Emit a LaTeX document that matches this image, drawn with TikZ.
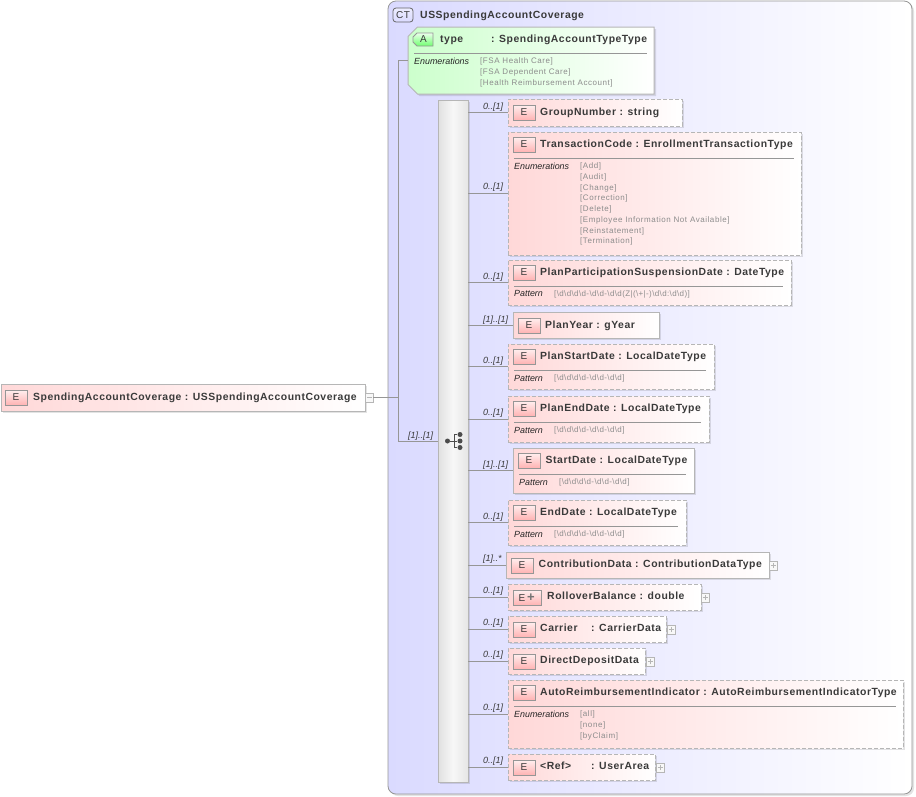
\documentclass[tikz,border=0pt]{standalone}
\usepackage{fontspec}
\setmainfont{Liberation Sans}
\newfontfamily\namefont{Liberation Sans}[LetterSpace=5.2]
\newfontfamily\valfont{Liberation Sans}[LetterSpace=7]
\newfontfamily\patfont{Liberation Sans}[LetterSpace=4.7]
\usetikzlibrary{shapes,shapes.misc}
\usetikzlibrary{shadows}
\usetikzlibrary{calc,positioning}
\definecolor{edgegray}{HTML}{B6B6B6}
\definecolor{linegray}{HTML}{969696}
\definecolor{inkgray}{HTML}{3A3A3A}
\definecolor{valgray}{HTML}{8C8C8C}
\definecolor{elempink}{HTML}{FFD8D8}
\definecolor{attrgreen}{HTML}{CCFFCC}
\definecolor{typeblue}{HTML}{DADAFF}
\newcommand\bsd{\textbackslash d}

\begin{document}
\begin{tikzpicture}[x=1pt, y=-1pt,
  softshadow/.style = {drop shadow={shadow xshift=2pt, shadow yshift=-2pt, opacity=0.11, fill=black}},
  reqbox/.style = {rectangle, anchor=north west, inner sep=0, outer sep=0, draw=edgegray, line width=1pt, left color=elempink, right color=white, softshadow},
  optbox/.style = {reqbox, dash pattern=on 4pt off 2pt},
  elemicon/.style = {rectangle, anchor=north west, inner sep=0, outer sep=0, minimum width=22, minimum height=15, draw=linegray, line width=0.8pt, top color=elempink!40, bottom color=red!30, text=inkgray, font=\fontsize{10}{10}\selectfont\namefont},
  namelabel/.style = {anchor=base west, inner sep=0, text=inkgray, font=\fontsize{10.4}{12}\bfseries\namefont},
  multlabel/.style = {anchor=base west, inner sep=0, text=inkgray, font=\fontsize{9}{10}\itshape\selectfont},
  facettag/.style = {anchor=base west, inner sep=0, text=black!85, font=\fontsize{8.9}{10}\itshape\selectfont},
  facetval/.style = {anchor=north west, inner sep=0, align=left, text=valgray, font=\fontsize{8}{10.75}\selectfont\valfont},
  patternval/.style = {facetval, font=\fontsize{8}{10.75}\selectfont\patfont},
  sepline/.style = {draw=linegray, line width=0.7pt},
  conn/.style = {draw=linegray, line width=0.7pt},
  togglebox/.style = {rectangle, anchor=north west, inner sep=0, outer sep=0, minimum width=8, minimum height=9, draw=edgegray, line width=0.6pt, fill=white!90!edgegray},
  plusbox/.style = {togglebox, path picture={\draw[edgegray, line width=0.7pt] ([xshift=-2.5pt]path picture bounding box.center) -- ([xshift=2.5pt]path picture bounding box.center) ([yshift=-2.5pt]path picture bounding box.center) -- ([yshift=2.5pt]path picture bounding box.center);}},
  minusbox/.style = {togglebox, path picture={\draw[edgegray, line width=0.7pt] ([xshift=-2.5pt]path picture bounding box.center) -- ([xshift=2.5pt]path picture bounding box.center);}},
  seqdot/.style = {circle, fill=black!70, inner sep=0, minimum size=5}]

\useasboundingbox (0,0) rectangle (916,796);

% complex type frame
\node[rectangle, anchor=north west, inner sep=0, outer sep=0, minimum width=524, minimum height=793, draw=linegray, line width=0.8pt, rounded corners=8pt, left color=typeblue, right color=white, softshadow](frame) at (388,1){};
\node[elemicon, minimum width=20, minimum height=14, rounded corners=3pt, top color=typeblue!50, bottom color=typeblue, draw=black!60, text=inkgray](frameicon) at (393,8){CT};
\node[namelabel](frametitle) at (420,18){USSpendingAccountCoverage};

% root element
\node[reqbox, minimum width=364, minimum height=27](root) at (1,384){};
\node[elemicon](rooticon) at (5,390){E};
\node[namelabel](rootname) at (33,400){SpendingAccountCoverage : USSpendingAccountCoverage};
\node[minusbox](rootminus) at (365,393){};
\coordinate (bus) at (398,397.5);

% attribute
\draw [draw=edgegray, line width=1pt, left color=attrgreen, right color=white, softshadow] (408,36.5) -- (417.5,27) -- (654,27) -- (654,94) -- (417.5,94) -- (408,84.5) -- cycle;
\coordinate (attr) at (408,60.5);
\draw [draw=linegray, line width=0.8pt, top color=attrgreen!40, bottom color=green!45!attrgreen] (413,37) -- (417,33) -- (433,33) -- (433,46) -- (417,46) -- (413,42) -- cycle;
\node[anchor=center, inner sep=0, text=inkgray, font=\fontsize{10}{10}\selectfont\namefont](attricon) at (423.5,39.5){A};
\node[namelabel](attrname) at (440,42){type};
\node[namelabel](attrtype) at (491,42){: SpendingAccountTypeType};
\draw[sepline] (414,53) -- (647,53);
\node[facettag](attrtag) at (414,64){Enumerations};
\node[facetval](attrval) at (480,57.5){[FSA Health Care]\\\relax[FSA Dependent Care]\\\relax[Health Reimbursement Account]};

% sequence
\node[rectangle, anchor=north west, inner sep=0, outer sep=0, minimum width=30, minimum height=682, draw=edgegray, line width=0.9pt, left color=black!12, right color=black!10, middle color=black!3, softshadow](seq) at (438,100){};
\node[seqdot](seqroot) at (447.5,441){};
\node[seqdot](seqtop) at (460,434.5){};
\node[seqdot](seqmid) at (460,441){};
\node[seqdot](seqlow) at (460,447.5){};
\node[multlabel](seqmult) at (408,438){[1]..[1]};

% children
\node[optbox, minimum width=174, minimum height=27](group) at (508,99){};
\node[elemicon](groupicon) at (513,105){E};
\node[namelabel](groupname) at (540,115){GroupNumber : string};
\node[multlabel](groupmult) at (483,109){0..[1]};

\node[optbox, minimum width=293, minimum height=123](trans) at (508,132){};
\node[elemicon](transicon) at (513,137){E};
\node[namelabel](transname) at (540,147){TransactionCode : EnrollmentTransactionType};
\draw[sepline] (514,158) -- (794,158);
\node[facettag](transtag) at (514,169){Enumerations};
\node[facetval](transval) at (580,162.5){[Add]\\\relax[Audit]\\\relax[Change]\\\relax[Correction]\\\relax[Delete]\\\relax[Employee Information Not Available]\\\relax[Reinstatement]\\\relax[Termination]};
\node[multlabel](transmult) at (483,189){0..[1]};

\node[optbox, minimum width=283, minimum height=45](susp) at (508,260){};
\node[elemicon](suspicon) at (513,265){E};
\node[namelabel](suspname) at (540,275){PlanParticipationSuspensionDate : DateType};
\draw[sepline] (514,286.5) -- (783,286.5);
\node[facettag](susptag) at (514,296.5){Pattern};
\node[patternval](suspval) at (554,290.5){[\bsd\bsd\bsd\bsd-\bsd\bsd-\bsd\bsd(Z|(\textbackslash+|-)\bsd\bsd:\bsd\bsd)]};
\node[multlabel](suspmult) at (483,279){0..[1]};

\node[reqbox, minimum width=146, minimum height=26](year) at (513,312){};
\node[elemicon](yearicon) at (518,318){E};
\node[namelabel](yearname) at (545,328){PlanYear : gYear};
\node[multlabel](yearmult) at (483,322){[1]..[1]};

\node[optbox, minimum width=206, minimum height=45](pstart) at (508,344){};
\node[elemicon](pstarticon) at (513,349){E};
\node[namelabel](pstartname) at (540,359){PlanStartDate : LocalDateType};
\draw[sepline] (514,370.5) -- (706,370.5);
\node[facettag](pstarttag) at (514,381){Pattern};
\node[patternval](pstartval) at (554,374.5){[\bsd\bsd\bsd\bsd-\bsd\bsd-\bsd\bsd]};
\node[multlabel](pstartmult) at (483,363){0..[1]};

\node[optbox, minimum width=201, minimum height=46](pend) at (508,396){};
\node[elemicon](pendicon) at (513,401){E};
\node[namelabel](pendname) at (540,411){PlanEndDate : LocalDateType};
\draw[sepline] (514,422.5) -- (701,422.5);
\node[facettag](pendtag) at (514,433){Pattern};
\node[patternval](pendval) at (554,426.5){[\bsd\bsd\bsd\bsd-\bsd\bsd-\bsd\bsd]};
\node[multlabel](pendmult) at (483,415){0..[1]};

\node[reqbox, minimum width=181, minimum height=45](start) at (513,448){};
\node[elemicon](starticon) at (518,453){E};
\node[namelabel](startname) at (545.5,463){StartDate : LocalDateType};
\draw[sepline] (519,474.5) -- (686,474.5);
\node[facettag](starttag) at (519,485){Pattern};
\node[patternval](startval) at (559,478.5){[\bsd\bsd\bsd\bsd-\bsd\bsd-\bsd\bsd]};
\node[multlabel](startmult) at (483,467){[1]..[1]};

\node[optbox, minimum width=178, minimum height=45](finish) at (508,500){};
\node[elemicon](finishicon) at (513,505){E};
\node[namelabel](finishname) at (540,515){EndDate : LocalDateType};
\draw[sepline] (514,526.5) -- (678,526.5);
\node[facettag](finishtag) at (514,537){Pattern};
\node[patternval](finishval) at (554,530.5){[\bsd\bsd\bsd\bsd-\bsd\bsd-\bsd\bsd]};
\node[multlabel](finishmult) at (483,519){0..[1]};

\node[reqbox, minimum width=263, minimum height=26](contrib) at (506,552){};
\node[elemicon](contribicon) at (511,558){E};
\node[namelabel](contribname) at (538.5,567){ContributionData : ContributionDataType};
\node[plusbox](contribplus) at (769,561){};
\node[multlabel](contribmult) at (483,561){[1]..*};

\node[optbox, minimum width=193, minimum height=26](roll) at (508,584){};
\node[elemicon, minimum width=28](rollicon) at (513,590){E\,\textcolor{black!55}{\fontsize{13}{13}\selectfont\textbf{+}}};
\node[namelabel](rollname) at (547,599){RolloverBalance : double};
\node[plusbox](rollplus) at (701,593){};
\node[multlabel](rollmult) at (483,593){0..[1]};

\node[optbox, minimum width=158, minimum height=26](carrier) at (508,616){};
\node[elemicon](carriericon) at (513,622){E};
\node[namelabel](carriername) at (540,631){Carrier};
\node[namelabel](carriertype) at (591,631){: CarrierData};
\node[plusbox](carrierplus) at (667,625){};
\node[multlabel](carriermult) at (483,625){0..[1]};

\node[optbox, minimum width=137, minimum height=26](direct) at (508,648){};
\node[elemicon](directicon) at (513,654){E};
\node[namelabel](directname) at (540,663){DirectDepositData};
\node[plusbox](directplus) at (646,657){};
\node[multlabel](directmult) at (483,657){0..[1]};

\node[optbox, minimum width=395, minimum height=68](auto) at (508,680){};
\node[elemicon](autoicon) at (513,685){E};
\node[namelabel](autoname) at (540,695){AutoReimbursementIndicator : AutoReimbursementIndicatorType};
\draw[sepline] (514,706.5) -- (896,706.5);
\node[facettag](autotag) at (514,717){Enumerations};
\node[facetval](autoval) at (580,710.5){[all]\\\relax[none]\\\relax[byClaim]};
\node[multlabel](automult) at (483,710){0..[1]};

\node[optbox, minimum width=147, minimum height=26](area) at (508,754){};
\node[elemicon](areaicon) at (513,760){E};
\node[namelabel](areaname) at (540,769){<Ref>};
\node[namelabel](areatype) at (591,769){: UserArea};
\node[plusbox](areaplus) at (656,763){};
\node[multlabel](areamult) at (483,763){0..[1]};

% connectors
\draw [conn] (rootminus) to (bus);
\draw [conn] (attr -| bus) to (seq.west -| bus);
\draw [conn] (attr -| bus) to (attr);
\draw [conn] (seq.west -| bus) to (seq.west);
\draw [conn] (group.west -| seq.east) to (group.west);
\draw [conn] (trans.west -| seq.east) to (trans.west);
\draw [conn] (susp.west -| seq.east) to (susp.west);
\draw [conn] (year.west -| seq.east) to (year.west);
\draw [conn] (pstart.west -| seq.east) to (pstart.west);
\draw [conn] (pend.west -| seq.east) to (pend.west);
\draw [conn] (start.west -| seq.east) to (start.west);
\draw [conn] (finish.west -| seq.east) to (finish.west);
\draw [conn] (contrib.west -| seq.east) to (contrib.west);
\draw [conn] (roll.west -| seq.east) to (roll.west);
\draw [conn] (carrier.west -| seq.east) to (carrier.west);
\draw [conn] (direct.west -| seq.east) to (direct.west);
\draw [conn] (auto.west -| seq.east) to (auto.west);
\draw [conn] (area.west -| seq.east) to (area.west);
\draw [black!70, line width=0.8pt] (seqroot) to (seqmid);
\draw [black!70, line width=0.8pt] (454,434.5) to (454,447.5);
\draw [black!70, line width=0.8pt] (454,434.5) to (seqtop);
\draw [black!70, line width=0.8pt] (454,447.5) to (seqlow);

\end{tikzpicture}
\end{document}
